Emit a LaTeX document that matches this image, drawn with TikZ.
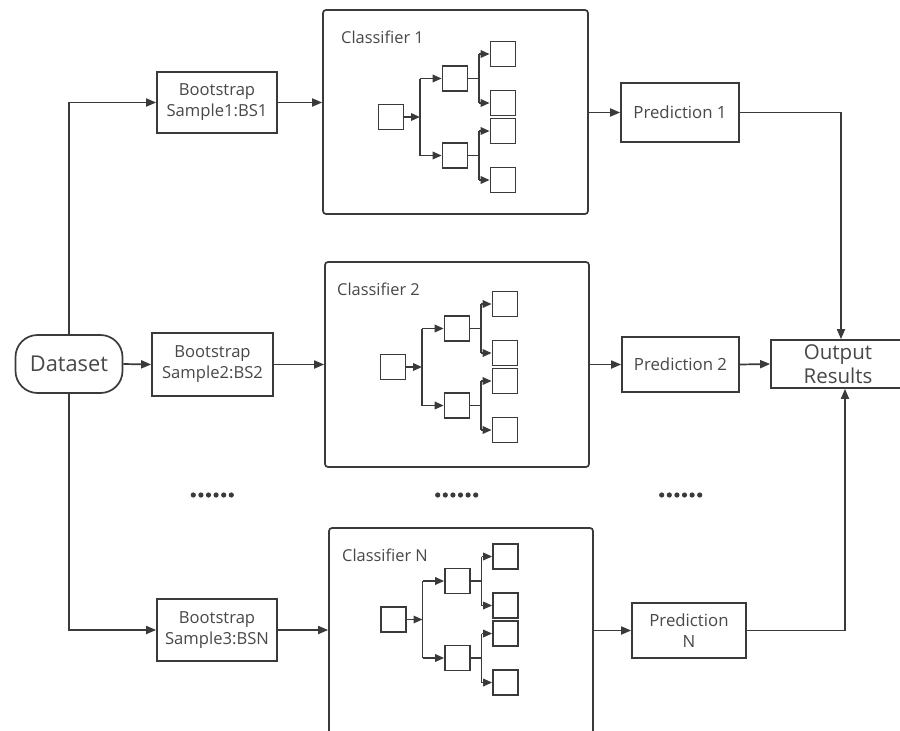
\documentclass[tikz,border=0pt]{standalone}
\usepackage{fontspec}
\setmainfont{Open Sans}
\usetikzlibrary{calc,arrows.meta}
\definecolor{lc}{HTML}{3A3A3A}
\definecolor{tc}{HTML}{484848}
\tikzset{
  ln/.style={draw=lc, line width=1.7pt},
  arr/.style={ln, -{Triangle[length=10pt,width=8pt]}},
  tarr/.style={ln, -{Triangle[length=9pt,width=7.5pt]}},
  box/.style={draw=lc, line width=1.7pt, fill=white, text=tc, align=center, inner sep=0pt},
  bsbox/.style={box, font=\fontsize{16.6}{21}\selectfont, minimum width=120pt},
  predbox/.style={box, font=\fontsize{16.8}{21}\selectfont},
  clsbox/.style={draw=lc, line width=1.7pt, rounded corners=3pt, inner sep=0pt},
  leaf/.style={draw=lc, line width=1.7pt, minimum size=25pt, inner sep=0pt},
  ttl/.style={anchor=base west, text=tc, font=\fontsize{16.4}{20}\selectfont, inner sep=0pt},
  dot/.style={fill=lc}
}
\newcommand\dtree[3]{%
  \node[leaf] (#1r) at (#2,#3) {};
  \coordinate (#1j) at ($(#1r)+(29,0)$);
  \node[leaf] (#1a) at ($(#1r)+(64,-38.5)$) {};
  \node[leaf] (#1b) at ($(#1r)+(64,38.5)$) {};
  \coordinate (#1ja) at ($(#1a)+(24,0)$);
  \coordinate (#1jb) at ($(#1b)+(24,0)$);
  \node[leaf] (#1aa) at ($(#1a)+(48,-24.5)$) {};
  \node[leaf] (#1ab) at ($(#1a)+(48,24.5)$) {};
  \node[leaf] (#1ba) at ($(#1b)+(48,-24.5)$) {};
  \node[leaf] (#1bb) at ($(#1b)+(48,24.5)$) {};
  \draw[tarr] (#1r.east) -- (#1j);
  \draw[ln] (#1j |- #1a) -- (#1j |- #1b);
  \draw[tarr] (#1j |- #1a) -- (#1a.west);
  \draw[tarr] (#1j |- #1b) -- (#1b.west);
  \draw[ln] (#1a.east) -- (#1ja);
  \draw[ln] (#1b.east) -- (#1jb);
  \draw[ln] (#1ja |- #1aa) -- (#1ja |- #1ab);
  \draw[ln] (#1jb |- #1ba) -- (#1jb |- #1bb);
  \draw[tarr] (#1ja |- #1aa) -- (#1aa.west);
  \draw[tarr] (#1ja |- #1ab) -- (#1ab.west);
  \draw[tarr] (#1jb |- #1ba) -- (#1ba.west);
  \draw[tarr] (#1jb |- #1bb) -- (#1bb.west);
}
\begin{document}
\begin{tikzpicture}[x=1pt,y=-1pt]
\useasboundingbox (0,0) rectangle (900,731);
\fill[white] (0,0) rectangle (900,731);

% dataset
\node[box, rounded corners=22pt, minimum width=107pt, minimum height=58pt,
      font=\fontsize{21.8}{24}\selectfont] (ds) at (69,364) {Dataset};

% bootstrap samples
\node[bsbox, minimum height=61pt] (bs1) at (217,102.5) {Bootstrap\\Sample1:BS1};
\node[bsbox, minimum width=121pt, minimum height=63pt] (bs2) at (212.5,364.5) {Bootstrap\\Sample2:BS2};
\node[bsbox, minimum height=62pt] (bs3) at (217,630) {Bootstrap\\Sample3:BSN};

% classifiers
\node[clsbox, minimum width=265pt, minimum height=204pt] (c1) at (455.5,112) {};
\node[clsbox, minimum width=264pt, minimum height=205pt] (c2) at (457,364.5) {};
\node[clsbox, minimum width=264pt, minimum height=220pt] (cn) at (461,638) {};
\node[ttl] (t1) at (341,43) {Classifier 1};
\node[ttl] (t2) at (337,295) {Classifier 2};
\node[ttl] (tn) at (342,561.5) {Classifier N};
\dtree{ta}{391}{117}
\dtree{tb}{393}{367}
\dtree{tn}{393.5}{619.5}

% predictions
\node[predbox, minimum width=118pt, minimum height=59pt] (p1) at (680,112.5) {Prediction 1};
\node[predbox, minimum width=117pt, minimum height=55pt] (p2) at (680.5,364.5) {Prediction 2};
\node[predbox, minimum width=114pt, minimum height=55pt] (pn) at (689,630.5) {Prediction\\N};

% output
\node[box, minimum width=134pt, minimum height=48pt,
      font=\fontsize{20.5}{24}\selectfont] (out) at (838,364) {Output\\Results};

% connectors
\draw[arr] (ds.north) |- (bs1.west);
\draw[arr] (ds.east) -- (bs2.west);
\draw[arr] (ds.south) |- (bs3.west);
\draw[arr] (bs1.east) -- (bs1.east -| c1.west);
\draw[arr] (bs2.east) -- (bs2.east -| c2.west);
\draw[arr] (bs3.east) -- (bs3.east -| cn.west);
\draw[arr] (p1.west -| c1.east) -- (p1.west);
\draw[arr] (p2.west -| c2.east) -- (p2.west);
\draw[arr] (pn.west -| cn.east) -- (pn.west);
\draw[arr] (p1.east) -| ([xshift=3pt]out.north);
\draw[arr] (p2.east) -- (out.west);
\draw[arr] (pn.east) -| ([xshift=7pt]out.south);

% ellipsis dots
\foreach \x in {193.3,437.7,661.7}{
  \foreach \i in {0,...,5}{
    \fill[dot] (\x+\i*7.6,495) circle (2.6pt);
  }
}
\end{tikzpicture}
\end{document}
